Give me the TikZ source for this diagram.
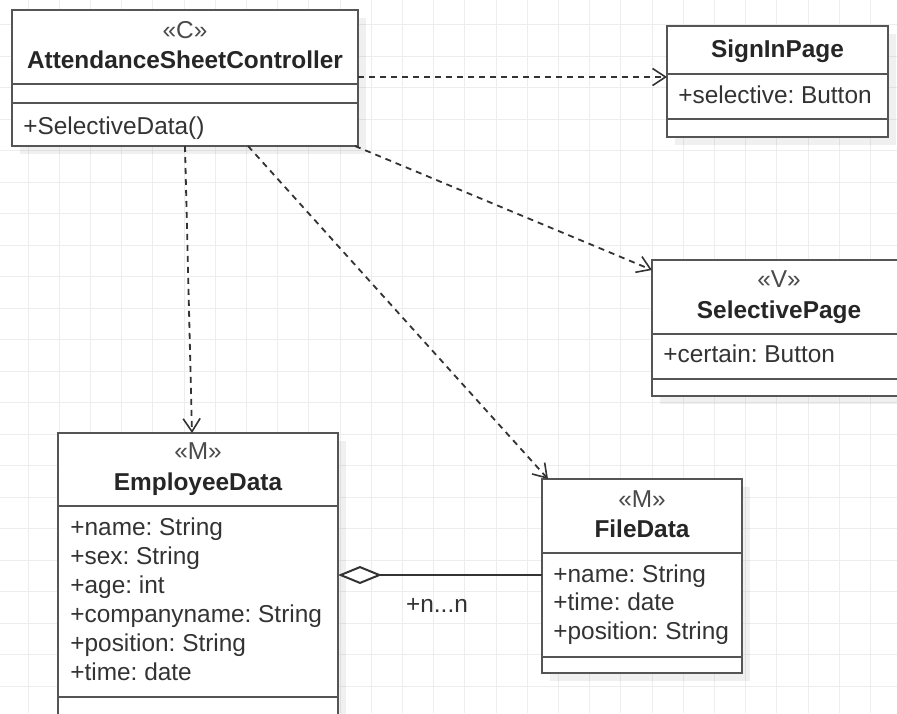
\documentclass[tikz,border=0pt]{standalone}
\usepackage{fontspec}
\setmainfont{Liberation Sans}
\usetikzlibrary{arrows.meta,calc,shadows}
\definecolor{gridc}{HTML}{EDEDED}
\definecolor{boxc}{HTML}{555555}
\definecolor{namec}{HTML}{262626}
\definecolor{stc}{HTML}{4A4A4A}
\definecolor{attc}{HTML}{333333}
\definecolor{depc}{HTML}{333333}
\frenchspacing
\tikzset{
  gridline/.style={draw=gridc, line width=0.5pt},
  umlbox/.style={draw=boxc, line width=1.25pt, fill=white, anchor=north west,
    inner sep=0pt, outer sep=0pt,
    drop shadow={shadow xshift=4pt, shadow yshift=-4pt, fill=black, opacity=0.06}},
  divider/.style={draw=boxc, line width=1.25pt},
  txt/.style={font=\fontsize{12.2}{14}\selectfont, inner sep=0pt, anchor=base},
  stereo/.style={txt, text=stc},
  cname/.style={txt, text=namec, font=\fontsize{12.2}{14}\selectfont\bfseries},
  attr/.style={txt, text=attc, anchor=base west},
  dep/.style={draw=depc, line width=0.9pt, dash pattern=on 3pt off 2.5pt,
    -{Straight Barb[length=6.5pt,width=8.5pt,line width=0.8pt]}},
  aggr/.style={draw=depc, line width=1pt,
    {Diamond[open,length=22pt,width=9pt,line width=1pt,fill=white]}-},
}
\begin{document}
\begin{tikzpicture}[x=0.5pt,y=-0.5pt]
\useasboundingbox (0,0) rectangle (897,713);
\clip (0,0) rectangle (897,713);
\fill[white] (0,0) rectangle (897,713);
% grid
\foreach \i in {0,...,28} \draw[gridline] ({28+31.2*\i},0) -- ({28+31.2*\i},713);
\foreach \j in {0,...,22} \draw[gridline] (0,{24.5+31.5*\j}) -- (897,{24.5+31.5*\j});

% AttendanceSheetController
\node[umlbox, minimum width=173pt, minimum height=68pt] (asc) at (12,10) {};
\draw[divider] ($(asc.north west)+(0,74)$) -- ($(asc.north east)+(0,74)$);
\draw[divider] ($(asc.north west)+(0,93)$) -- ($(asc.north east)+(0,93)$);
\node[stereo] (ascst) at ($(asc.north)+(0,28)$) {«C»};
\node[cname] (ascname) at ($(asc.north)+(0,58)$) {AttendanceSheetController};
\node[attr] (ascop) at ($(asc.north west)+(11,124)$) {+SelectiveData()};

% SignInPage
\node[umlbox, minimum width=110.5pt, minimum height=55.5pt] (signin) at (667,26) {};
\draw[divider] ($(signin.north west)+(0,48)$) -- ($(signin.north east)+(0,48)$);
\draw[divider] ($(signin.north west)+(0,93)$) -- ($(signin.north east)+(0,93)$);
\node[cname] (signinname) at ($(signin.north)+(0,31)$) {SignInPage};
\node[attr] (signinat) at ($(signin.north west)+(11,77)$) {+selective: Button};

% SelectivePage
\node[umlbox, minimum width=127pt, minimum height=68pt] (selpage) at (652,260) {};
\draw[divider] ($(selpage.north west)+(0,74)$) -- ($(selpage.north east)+(0,74)$);
\draw[divider] ($(selpage.north west)+(0,119)$) -- ($(selpage.north east)+(0,119)$);
\node[stereo] (selst) at ($(selpage.north)+(0,27)$) {«V»};
\node[cname] (selname) at ($(selpage.north)+(0,58)$) {SelectivePage};
\node[attr] (selat) at ($(selpage.north west)+(11,102)$) {+certain: Button};

% EmployeeData
\node[umlbox, minimum width=140pt, minimum height=150pt] (emp) at (58,433) {};
\draw[divider] ($(emp.north west)+(0,73)$) -- ($(emp.north east)+(0,73)$);
\draw[divider] ($(emp.north west)+(0,264)$) -- ($(emp.north east)+(0,264)$);
\node[stereo] (empst) at ($(emp.north)+(0,26)$) {«M»};
\node[cname] (empname) at ($(emp.north)+(0,57)$) {EmployeeData};
\node[attr] (empa1) at ($(emp.north west)+(12,102)$) {+name: String};
\node[attr] (empa2) at ($(emp.north west)+(12,131)$) {+sex: String};
\node[attr] (empa3) at ($(emp.north west)+(12,160)$) {+age: int};
\node[attr] (empa4) at ($(emp.north west)+(12,189)$) {+companyname: String};
\node[attr] (empa5) at ($(emp.north west)+(12,218)$) {+position: String};
\node[attr] (empa6) at ($(emp.north west)+(12,247)$) {+time: date};

% FileData
\node[umlbox, minimum width=100pt, minimum height=97pt] (file) at (542,479) {};
\draw[divider] ($(file.north west)+(0,74)$) -- ($(file.north east)+(0,74)$);
\draw[divider] ($(file.north west)+(0,178)$) -- ($(file.north east)+(0,178)$);
\node[stereo] (filest) at ($(file.north)+(0,28)$) {«M»};
\node[cname] (filename) at ($(file.north)+(0,58)$) {FileData};
\node[attr] (filea1) at ($(file.north west)+(11,103)$) {+name: String};
\node[attr] (filea2) at ($(file.north west)+(11,131)$) {+time: date};
\node[attr] (filea3) at ($(file.north west)+(11,160)$) {+position: String};

% dependencies
\draw[dep] ($(asc.north east)+(0,67)$) -- ($(signin.north west)+(0,51)$);
\draw[dep] ($(asc.south west)+(343,0)$) -- ($(selpage.north west)+(0,10)$);
\draw[dep] ($(asc.south west)+(173,0)$) -- ($(emp.north west)+(134,0)$);
\draw[dep] ($(asc.south west)+(236,0)$) -- ($(file.north west)+(6,0)$);

% aggregation
\draw[aggr] ($(emp.north east)+(0,142)$) -- ($(file.north west)+(0,96)$);
\node[txt, text=attc] (mult) at (437,612) {+n...n};
\end{tikzpicture}
\end{document}
